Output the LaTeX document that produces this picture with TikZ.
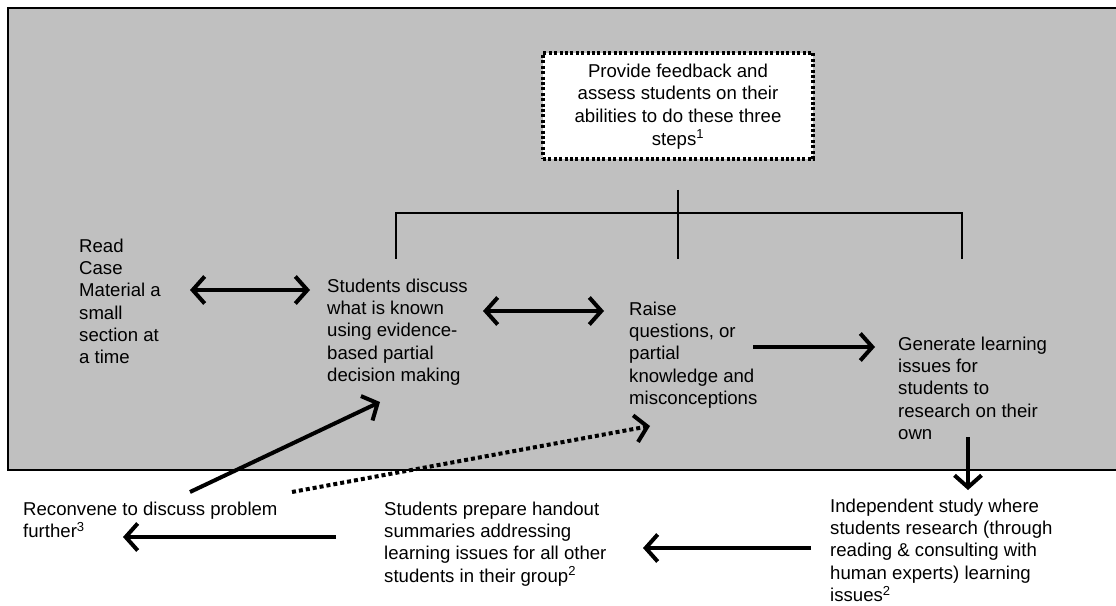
\documentclass[tikz,border=0pt]{standalone}
\usepackage{fontspec}
\setmainfont{Liberation Sans}
\usetikzlibrary{arrows.meta,calc}
\definecolor{panel}{RGB}{192,192,192}
% strut fixing the top of each text block 14pt above its first baseline
\newcommand\firstln{\rule{0pt}{14pt}}
\begin{document}
\begin{tikzpicture}[x=1pt,y=-1pt,
  txt/.style={anchor=north west, inner sep=0pt, align=left,
    font=\fontsize{18.6}{22.3}\selectfont},
  arr/.style={line width=4pt, -{Straight Barb[length=12pt,width=27pt]}},
  barr/.style={line width=4pt, {Straight Barb[length=12pt,width=27pt]}-{Straight Barb[length=12pt,width=27pt]}},
  dotarr/.style={line width=4pt, dash pattern=on 4pt off 3pt,
    -{Straight Barb[length=12pt,width=27pt]}},
  bracket/.style={line width=1.5pt},
  fbbox/.style={draw, fill=white, line width=3.5pt, dash pattern=on 3pt off 2.4pt,
    minimum width=270pt, minimum height=106pt, inner sep=0pt, align=center,
    font=\fontsize{18.6}{22.7}\selectfont}
]
\useasboundingbox (0,0) rectangle (1116,605);
\clip (0,0) rectangle (1116,605);

% shaded panel holding the in-class steps
\fill[panel] (8,8) rectangle (1130,470);
\draw[line width=1.5pt] (1130,8) -- (8,8) -- (8,470) -- (1130,470);

% feedback box
\node[fbbox] (fb) at (678,106) {\firstln Provide feedback and\\assess students on their\\abilities to do these three\\steps\textsuperscript{1}};

% step texts
\node[txt] (read)  at (79,238)  {\firstln Read\\Case\\Material a\\small\\section at\\a time};
\node[txt] (disc)  at (327,278) {\firstln Students discuss\\what is known\\using evidence-\\based partial\\decision making};
\node[txt] (raise) at (629,301) {\firstln Raise\\questions, or\\partial\\knowledge and\\misconceptions};
\node[txt] (gen)   at (898,336) {\firstln Generate learning\\issues for\\students to\\research on their\\own};
\node[txt] (indep) at (830,498) {\firstln Independent study where\\students research (through\\reading \& consulting with\\human experts) learning\\issues\textsuperscript{2}};
\node[txt] (prep)  at (384,501) {\firstln Students prepare handout\\summaries addressing\\learning issues for all other\\students in their group\textsuperscript{2}};
\node[txt] (recon) at (23,501)  {\firstln Reconvene to discuss problem\\further\textsuperscript{3}};

% bracket tying the feedback box to the three steps
\draw[bracket] ($(fb.south)+(0,29)$) -- ($(fb.south)+(0,98)$);
\draw[bracket] ($(fb.south)+(-282,98)$) -- ($(fb.south)+(-282,52)$)
  -- ($(fb.south)+(284,52)$) -- ($(fb.south)+(284,98)$);

% connectors
\draw[barr] ($(read.north west)+(111,52)$) -- ($(disc.north west)+(-17,12)$);
\draw[barr] ($(disc.north west)+(156,33)$) -- ($(raise.north west)+(-25,10)$);
\draw[arr]  ($(raise.north west)+(124,46)$) -- ($(gen.north west)+(-23,11)$);
\draw[arr]  ($(gen.north west)+(70,101)$) -- ($(indep.north west)+(138,-8)$);
\draw[arr]  ($(indep.north west)+(-19,50)$) -- ($(prep.north west)+(259,47)$);
\draw[arr]  ($(prep.north west)+(-48,36)$) -- ($(recon.north west)+(100,36)$);
\draw[arr]  ($(recon.north west)+(167,-9)$) -- ($(disc.north west)+(53,124)$);
\draw[dotarr] ($(recon.north west)+(269,-9)$) -- ($(raise.north west)+(21,125)$);
\end{tikzpicture}
\end{document}
